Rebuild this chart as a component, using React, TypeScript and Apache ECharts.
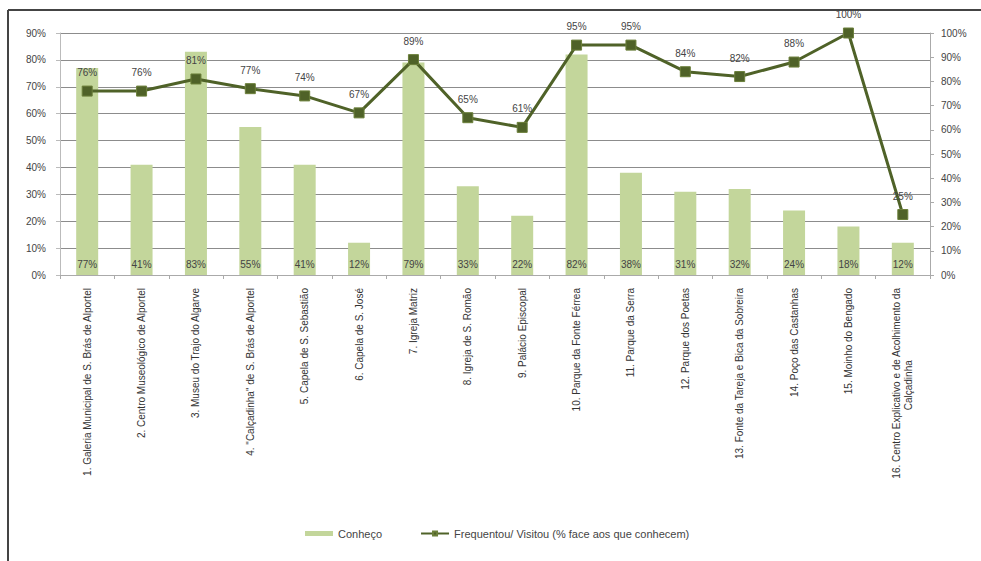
import React, { useEffect, useRef } from "react";
import * as echarts from "echarts";

const NB = "\u00a0";
const categories = [
  "1. Galeria Municipal de S. Brás de Alportel",
  "2. Centro Museológico de Alportel",
  "3. Museu do Trajo do Algarve",
  "4. \"Calçadinha\" de S. Brás de Alportel",
  "5. Capela de S. Sebastião",
  "6. Capela de S. José",
  "7. Igreja Matriz",
  "8. Igreja de S. Romão",
  "9. Palácio Episcopal",
  "10. Parque da Fonte Férrea",
  "11. Parque da Serra",
  "12. Parque dos Poetas",
  "13. Fonte da Tareja e Bica da Sobreira",
  "14. Poço das Castanhas",
  "15. Moinho do Bengado",
  "16. Centro Explicativo e de Acolhimento da\nCalçadinha" + NB.repeat(26),
];
const conheco = [77, 41, 83, 55, 41, 12, 79, 33, 22, 82, 38, 31, 32, 24, 18, 12];
const frequentou = [76, 76, 81, 77, 74, 67, 89, 65, 61, 95, 95, 84, 82, 88, 100, 25];
const leftTicks = { min: 0, max: 90, interval: 10 };
const rightTicks = { min: 0, max: 100, interval: 10 };

export default function App() {
  const ref = useRef<HTMLDivElement>(null);
  useEffect(() => {
    if (!ref.current) return;
    const chart = echarts.init(ref.current, null, { renderer: "svg" });
    const font = "Arial, 'Liberation Sans', sans-serif";
    chart.setOption({
      animation: false,
      backgroundColor: "#fff",
      textStyle: { fontFamily: font },
      grid: { left: 60, right: 51, top: 33, bottom: 286, containLabel: false },
      legend: {
        bottom: 17,
        left: 300,
        itemGap: 38,
        itemWidth: 28,
        itemHeight: 5,
        textStyle: { fontSize: 11, color: "#444", fontFamily: font },
        data: [
          { name: "Conheço", icon: "rect" },
          { name: "Frequentou/ Visitou (% face aos que conhecem)" },
        ],
      },
      xAxis: {
        type: "category",
        data: categories,
        axisLine: { show: true, lineStyle: { color: "#aaa" } },
        axisTick: { show: true, alignWithLabel: false, length: 4, lineStyle: { color: "#aaa" } },
        axisLabel: {
          rotate: 90,
          interval: 0,
          fontSize: 10,
          color: "#333",
          margin: 13,
          align: "right",
          lineHeight: 12,
          fontFamily: font,
        },
      },
      yAxis: [
        {
          type: "value",
          ...leftTicks,
          axisLabel: { formatter: "{value}%", fontSize: 10, color: "#444", margin: 14 },
          axisLine: { show: true, lineStyle: { color: "#bbb" } },
          axisTick: { show: true, length: 4, lineStyle: { color: "#bbb" } },
          splitLine: { show: true, lineStyle: { color: "#8c8c8c", width: 1.2 } },
        },
        {
          type: "value",
          ...rightTicks,
          position: "right",
          axisLabel: { formatter: "{value}%", fontSize: 10, color: "#444", margin: 11 },
          axisLine: { show: true, lineStyle: { color: "#aaa" } },
          axisTick: { show: true, length: 4, lineStyle: { color: "#aaa" } },
          splitLine: { show: false },
        },
      ],
      series: [
        {
          name: "Conheço",
          type: "bar",
          yAxisIndex: 0,
          data: conheco,
          barWidth: 22,
          itemStyle: { color: "#c3d69b" },
          label: {
            show: true,
            position: "insideBottom",
            distance: 6,
            formatter: "{c}%",
            fontSize: 10,
            color: "#444",
          },
        },
        {
          name: "Frequentou/ Visitou (% face aos que conhecem)",
          type: "line",
          yAxisIndex: 1,
          data: frequentou,
          symbol: "rect",
          symbolSize: 10,
          lineStyle: { color: "#4f6228", width: 3 },
          itemStyle: { color: "#4f6228", borderColor: "#6b7f3a", borderWidth: 1 },
          label: {
            show: true,
            position: "top",
            distance: 8,
            formatter: "{c}%",
            fontSize: 10,
            color: "#444",
          },
          z: 5,
        },
      ],
      graphic: [
        { type: "line", shape: { x1: 8, y1: 10, x2: 981, y2: 10 }, style: { stroke: "#444", lineWidth: 2 }, silent: true },
        { type: "line", shape: { x1: 8, y1: 10, x2: 8, y2: 561 }, style: { stroke: "#444", lineWidth: 2 }, silent: true },
      ],
    });
    return () => chart.dispose();
  }, []);
  return (
    <div
      ref={ref}
      style={{ position: "fixed", left: 0, top: 0, width: 981, height: 561 }}
    />
  );
}
